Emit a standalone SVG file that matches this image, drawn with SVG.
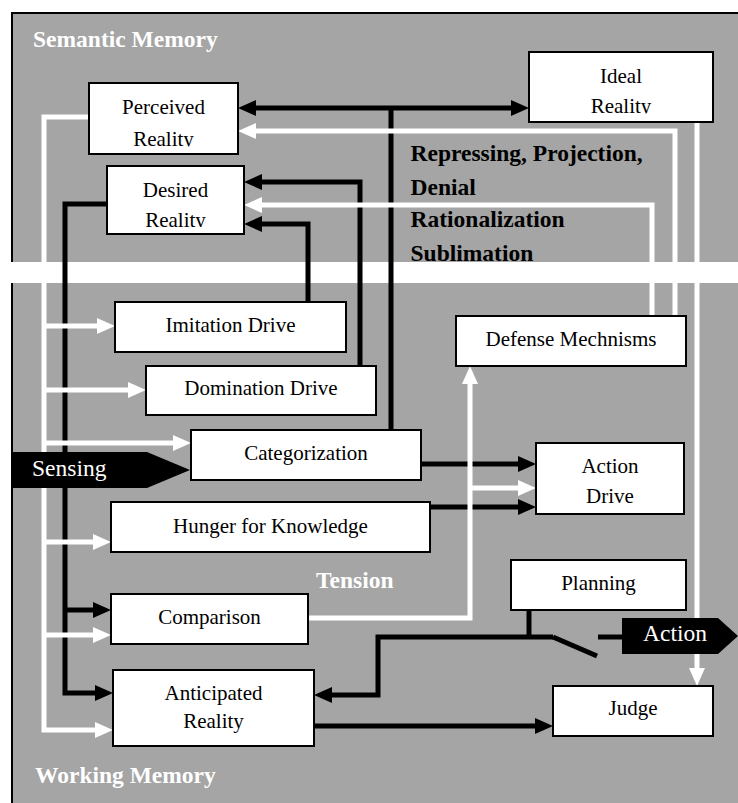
<svg xmlns="http://www.w3.org/2000/svg" width="738" height="803" viewBox="0 0 738 803">
  <style>
    .box rect { fill: #ffffff; stroke: #000000; stroke-width: 2; }
    .box text { font-family: "Liberation Serif", "Times New Roman", serif; font-size: 21px; fill: #000000; text-anchor: middle; }
    .blk { fill: none; stroke: #000000; stroke-width: 5; stroke-linejoin: miter; }
    .wht { fill: none; stroke: #ffffff; stroke-width: 5; stroke-linejoin: miter; }
    .ab { marker-end: url(#headB); }
    .aw { marker-end: url(#headW); }
    .title { font-family: "Liberation Serif", "Times New Roman", serif; font-size: 23.5px; font-weight: bold; fill: #ffffff; }
    .note { font-family: "Liberation Serif", "Times New Roman", serif; font-size: 23.5px; font-weight: bold; fill: #000000; }
    .tag polygon { fill: #000000; }
    .tag text { font-family: "Liberation Serif", "Times New Roman", serif; font-size: 23.5px; fill: #ffffff; }
  </style>
  <defs>
    <marker id="headB" viewBox="0 0 18 16" refX="0" refY="8" markerWidth="18" markerHeight="16" markerUnits="userSpaceOnUse" orient="auto-start-reverse">
      <path d="M0,0 L18,8 L0,16 Z" fill="#000000"/>
    </marker>
    <marker id="headW" viewBox="0 0 18 16" refX="0" refY="8" markerWidth="18" markerHeight="16" markerUnits="userSpaceOnUse" orient="auto-start-reverse">
      <path d="M0,0 L18,8 L0,16 Z" fill="#ffffff"/>
    </marker>
    <clipPath id="clipPerceived"><rect x="89" y="120" width="149" height="26.5"/></clipPath>
    <clipPath id="clipIdeal"><rect x="529" y="88" width="184" height="25.5"/></clipPath>
    <clipPath id="clipDesired"><rect x="107" y="200" width="137" height="27"/></clipPath>
  </defs>

  <!-- memory area -->
  <rect x="12" y="13" width="726" height="790" fill="#a5a5a5"/>
  <path d="M738,13 H12 V803" fill="none" stroke="#000000" stroke-width="2"/>
  <text class="title" x="33" y="47">Semantic Memory</text>
  <text class="title" x="35" y="783">Working Memory</text>

  <!-- defense mechanism labels -->
  <g id="defense-labels">
    <text class="note" x="410.5" y="161">Repressing, Projection,</text>
    <text class="note" x="410.5" y="195">Denial</text>
    <text class="note" x="410.5" y="227">Rationalization</text>
    <text class="note" x="410.5" y="261">Sublimation</text>
  </g>

  <!-- boundary between semantic and working memory -->
  <rect x="0" y="262" width="738" height="21" fill="#ffffff"/>

  <text class="title" x="316" y="588">Tension</text>

  <!-- connectors -->
  <g id="connectors">
    <!-- black -->
    <path class="blk" d="M256,108 H511" marker-start="url(#headB)" marker-end="url(#headB)"/>
    <path class="blk" d="M391,108 V430"/>
    <path class="blk ab" d="M360,366 V182 H262"/>
    <path class="blk ab" d="M308,302 V224 H262"/>
    <path class="blk ab" d="M107,204 H65 V693 H95"/>
    <path class="blk ab" d="M65,610 H93"/>
    <path class="blk ab" d="M421,464 H518"/>
    <path class="blk ab" d="M430,507 H518"/>
    <path class="blk" d="M529,610 V637"/>
    <path class="blk ab" d="M553,637 H378 V695 H332"/>
    <path class="blk" d="M553,637 L597,656"/>
    <path class="blk" d="M598,637 H622"/>
    <path class="blk ab" d="M314,726 H535"/>
    <!-- white -->
    <path class="wht aw" d="M89,117 H44 V730 H95"/>
    <path class="wht aw" d="M44,326 H97"/>
    <path class="wht aw" d="M44,390 H128"/>
    <path class="wht aw" d="M44,443 H173"/>
    <path class="wht aw" d="M44,542 H93"/>
    <path class="wht aw" d="M44,635 H93"/>
    <path class="wht aw" d="M675,316 V131 H256"/>
    <path class="wht aw" d="M652,316 V205 H262"/>
    <path class="wht aw" d="M697,122 V668"/>
    <path class="wht aw" d="M308,618 H470 V384"/>
    <path class="wht aw" d="M470,488 H518"/>
  </g>

  <!-- nodes -->
  <g id="perceived-reality" class="box">
    <rect x="89" y="83" width="149" height="71"/>
    <text x="163.5" y="114">Perceived</text>
    <text x="163.5" y="146" clip-path="url(#clipPerceived)">Reality</text>
  </g>
  <g id="desired-reality" class="box">
    <rect x="107" y="166" width="137" height="68"/>
    <text x="175.5" y="197">Desired</text>
    <text x="175.5" y="227" clip-path="url(#clipDesired)">Reality</text>
  </g>
  <g id="ideal-reality" class="box">
    <rect x="529" y="52" width="184" height="70"/>
    <text x="621" y="83">Ideal</text>
    <text x="621" y="113" clip-path="url(#clipIdeal)">Reality</text>
  </g>
  <g id="imitation-drive" class="box">
    <rect x="115" y="302" width="231" height="50"/>
    <text x="230.5" y="332">Imitation Drive</text>
  </g>
  <g id="domination-drive" class="box">
    <rect x="146" y="366" width="230" height="49"/>
    <text x="261" y="395">Domination Drive</text>
  </g>
  <g id="defense-mechanisms" class="box">
    <rect x="456" y="316" width="230" height="50"/>
    <text x="571" y="346">Defense Mechnisms</text>
  </g>
  <g id="categorization" class="box">
    <rect x="191" y="430" width="230" height="50"/>
    <text x="306" y="460">Categorization</text>
  </g>
  <g id="action-drive" class="box">
    <rect x="536" y="443" width="148" height="71"/>
    <text x="610" y="473">Action</text>
    <text x="610" y="503">Drive</text>
  </g>
  <g id="hunger-for-knowledge" class="box">
    <rect x="111" y="502" width="319" height="50"/>
    <text x="270.5" y="533">Hunger for Knowledge</text>
  </g>
  <g id="planning" class="box">
    <rect x="511" y="560" width="175" height="50"/>
    <text x="598.5" y="590">Planning</text>
  </g>
  <g id="comparison" class="box">
    <rect x="111" y="594" width="197" height="50"/>
    <text x="209.5" y="624">Comparison</text>
  </g>
  <g id="anticipated-reality" class="box">
    <rect x="113" y="670" width="201" height="76"/>
    <text x="213.5" y="700">Anticipated</text>
    <text x="213.5" y="728">Reality</text>
  </g>
  <g id="judge" class="box">
    <rect x="553" y="686" width="160" height="50"/>
    <text x="633" y="715">Judge</text>
  </g>

  <!-- input and output tags -->
  <g id="sensing" class="tag">
    <polygon points="12,452 147,452 190,470 147,488 12,488"/>
    <text x="32" y="476">Sensing</text>
  </g>
  <g id="action" class="tag">
    <polygon points="622,618 718,618 738,636 718,654 622,654"/>
    <text x="643" y="641">Action</text>
  </g>
</svg>
